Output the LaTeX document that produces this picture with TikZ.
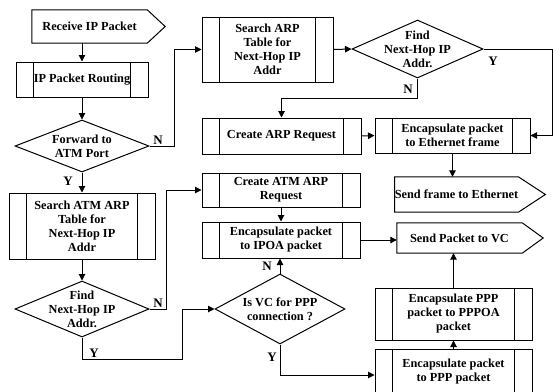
\documentclass[tikz,border=0pt]{standalone}
\usepackage{fontspec}
\setmainfont{Liberation Serif}
\usetikzlibrary{arrows.meta,shapes.geometric}
\tikzset{
  txt/.style={font=\fontsize{12.3}{14}\selectfont\bfseries, align=center, inner sep=0pt},
  proc/.style={txt, draw, line width=1pt, path picture={
    \draw[line width=1pt] ([xshift=17.5pt]path picture bounding box.north west) -- ([xshift=17.5pt]path picture bounding box.south west)
      ([xshift=-17.5pt]path picture bounding box.north east) -- ([xshift=-17.5pt]path picture bounding box.south east);}},
  dia/.style={draw, diamond, inner sep=0pt, line width=1pt},
  body/.style={txt, minimum width=#1},
  lbl/.style={font=\fontsize{13}{14}\selectfont\bfseries, inner sep=0pt},
  arr/.style={line width=1pt, -{Triangle[length=6.5pt,width=6.5pt]}},
  flag/.style={line width=1pt, line join=miter}
}
\begin{document}
\begin{tikzpicture}[x=1pt,y=-1pt]
\useasboundingbox (0,0) rectangle (553,391);
% left column
\node[body=115, minimum height=33] (recv) at (89.5,26.5) {Receive IP Packet};
\draw[flag] (recv.north west) -- (recv.north east) -- ([xshift=18pt]recv.east) -- (recv.south east) -- (recv.south west) -- cycle;
\node[proc, minimum width=132, minimum height=35] (rout) at (82,79.5) {IP Packet Routing};
\node[dia, minimum width=134, minimum height=52] (fwd) at (82,146) {};
\node[txt] (fwdT) at (fwd) {Forward to\\ATM Port};
\node[proc, minimum width=146, minimum height=66] (satm) at (82,226) {Search ATM ARP\\Table for\\Next-Hop IP\\Addr};
\node[dia, minimum width=134, minimum height=56] (find2) at (82,309) {};
\node[txt] (find2T) at (find2) {Find\\Next-Hop IP\\Addr.};
% middle column
\node[proc, minimum width=131, minimum height=65] (sarp) at (267.5,49.5) {Search ARP\\Table for\\Next-Hop IP\\Addr};
\node[proc, minimum width=159, minimum height=36] (carp) at (281.5,136) {Create ARP Request};
\node[proc, minimum width=158, minimum height=34] (catm) at (281,190) {Create ATM ARP\\Request};
\node[proc, minimum width=158, minimum height=36] (ipoa) at (281,240) {Encapsulate packet\\to IPOA packet};
\node[dia, minimum width=130, minimum height=70] (isvc) at (280,309) {};
\node[txt] (isvcT) at (isvc) {Is VC for PPP\\connection ?};
% right column
\node[dia, minimum width=131, minimum height=58] (find1) at (417.5,49) {};
\node[txt] (find1T) at (find1) {Find\\Next-Hop IP\\Addr.};
\node[proc, minimum width=155, minimum height=35] (eeth) at (452.5,135.5) {Encapsulate packet\\to Ethernet frame};
\node[body=117, minimum height=35] (sfe) at (456.5,194.5) {Send frame to Ethernet};
\draw[flag] (sfe.north west) -- (sfe.north east) -- ([xshift=27pt]sfe.east) -- (sfe.south east) -- (sfe.south west) -- cycle;
\node[body=125, minimum height=30] (svc) at (459.5,238) {Send Packet to VC};
\draw[flag] (svc.north west) -- (svc.north east) -- ([xshift=21pt]svc.east) -- (svc.south east) -- (svc.south west) -- cycle;
\node[proc, minimum width=157, minimum height=52] (pppoa) at (453.5,314) {Encapsulate PPP\\packet to PPPOA\\packet};
\node[proc, minimum width=157, minimum height=46] (ppp) at (453.5,372) {Encapsulate packet\\to PPP packet};
% helper coordinates
\coordinate (b1) at (182,359);
\coordinate (rt) at (552,0);
% connectors
\draw[arr] (recv.south -| rout.north) -- (rout.north);
\draw[arr] (rout.south) -- (fwd.north);
\draw[arr] (fwd.south) -- (satm.north);
\draw[arr] (fwd.east) -- ++(25,0) |- (sarp.west);
\draw[arr] (satm.south) -- (find2.north);
\draw[arr] (find2.east) -- ++(17,0) |- (catm.west);
\draw[arr] (find2.south) |- (b1) |- (isvc.west);
\draw[arr] (isvc.north) -- (isvc.north |- ipoa.south);
\draw[arr] (isvc.south) |- ([yshift=-3pt]ppp.west);
\draw[arr] (sarp.east) -- (find1.west);
\draw[arr] (find1.east) -- (find1.east -| rt) |- (eeth.east);
\draw[arr] (find1.south) -- ++(0,20) -| (carp.north);
\draw[arr] (carp.east) -- (eeth.west);
\draw[arr] (eeth.south) -- (eeth.south |- sfe.north);
\draw[arr] (catm.south) -- (ipoa.north);
\draw[arr] (ipoa.east) -- (ipoa.east -| svc.west);
\draw[arr] (pppoa.north) -- (pppoa.north |- svc.south);
\draw[arr] (ppp.north) -- (pppoa.south);
% labels
\node[lbl] (l1) at (158,140) {N};
\node[lbl] (l2) at (68,181) {Y};
\node[lbl] (l3) at (158,303) {N};
\node[lbl] (l4) at (94,353) {Y};
\node[lbl] (l5) at (267,266) {N};
\node[lbl] (l6) at (272,357) {Y};
\node[lbl] (l7) at (493,61) {Y};
\node[lbl] (l8) at (408,89) {N};
\end{tikzpicture}
\end{document}
